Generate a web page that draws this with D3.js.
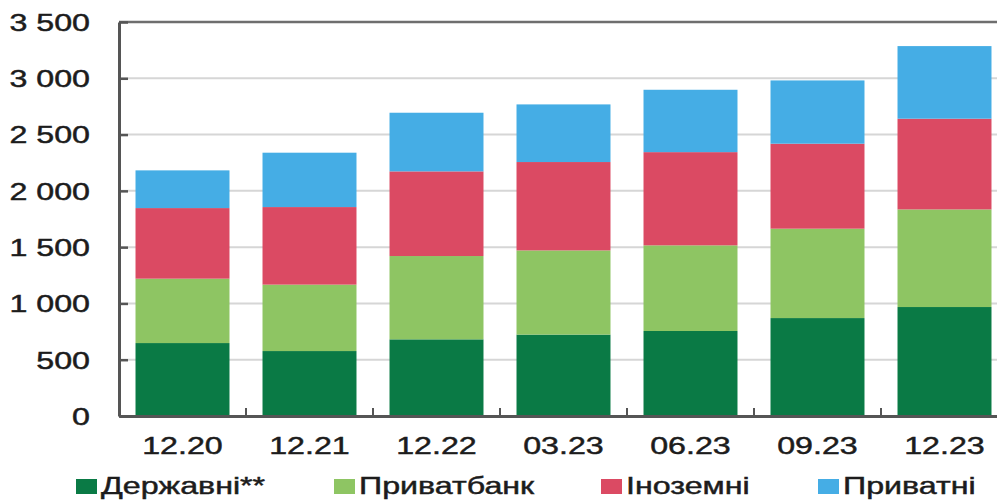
<!DOCTYPE html>
<html>
<head>
<meta charset="utf-8">
<script src="https://cdn.jsdelivr.net/npm/d3@7"></script>
<style>
  html, body { margin: 0; padding: 0; background: #fff; }
  text { font-family: "Liberation Sans", Arial, sans-serif; fill: #1c1c1c; stroke: #1c1c1c; stroke-width: 0.45px; }
</style>
</head>
<body>
<svg id="chart" width="997" height="500"></svg>
<script>
const categories = ["12.20", "12.21", "12.22", "03.23", "06.23", "09.23", "12.23"];
const seriesNames = ["Державні**", "Приватбанк", "Іноземні", "Приватні"];
const derzhavni   = [648, 577, 681, 723, 755, 870, 968];
const privatbank  = [572, 590, 740, 748, 761, 794, 867];
const inozemni    = [627, 689, 752, 785, 828, 755, 806];
const pryvatni    = [335, 483, 521, 512, 554, 562, 645];
const yTicks = [0, 500, 1000, 1500, 2000, 2500, 3000, 3500];
const colors = ["#0a7a45", "#8ec563", "#db4a63", "#45ade5"];

const table = categories.map((c, i) => ({
  cat: c,
  [seriesNames[0]]: derzhavni[i],
  [seriesNames[1]]: privatbank[i],
  [seriesNames[2]]: inozemni[i],
  [seriesNames[3]]: pryvatni[i]
}));

const svg = d3.select("#chart");
const mLeft = 119, mRight = 1008, mTop = 22, mBottom = 416;
const SX = 1.4; // horizontal stretch of the reference text
const FS = "23px";

const x = d3.scaleBand().domain(categories).range([mLeft, mRight]).paddingInner(0.26).paddingOuter(0.13);
const y = d3.scaleLinear().domain([0, 3500]).range([mBottom, mTop]);

// gridlines
svg.append("g").selectAll("line").data(yTicks.filter(t => t > 0 && t < 3500)).join("line")
  .attr("x1", mLeft).attr("x2", 997)
  .attr("y1", d => y(d)).attr("y2", d => y(d))
  .attr("stroke", "#d6d6d6").attr("stroke-width", 2);

// top frame
svg.append("line").attr("x1", mLeft).attr("x2", 997).attr("y1", y(3500)).attr("y2", y(3500))
  .attr("stroke", "#6e6e6e").attr("stroke-width", 2.5);

// bars
const stack = d3.stack().keys(seriesNames)(table);
svg.append("g").selectAll("g").data(stack).join("g")
  .attr("fill", (d, i) => colors[i])
  .selectAll("rect").data(d => d).join("rect")
  .attr("x", d => x(d.data.cat))
  .attr("width", x.bandwidth())
  .attr("y", d => y(d[1]))
  .attr("height", d => y(d[0]) - y(d[1]));

// y axis
const yAxis = d3.axisLeft(y).tickValues(yTicks).tickSizeInner(-9).tickSizeOuter(0).tickFormat(() => "");
const ya = svg.append("g").attr("transform", `translate(${mLeft},0)`).call(yAxis);
ya.select(".domain").attr("stroke", "#555").attr("stroke-width", 3);
ya.selectAll(".tick line").attr("stroke", "#555").attr("stroke-width", 2.5);

const fmt = v => d3.format(",")(v).replace(/,/g, " ");
svg.append("g").selectAll("text").data(yTicks).join("text")
  .attr("transform", d => `translate(90,${y(d) + 1}) scale(${SX},1)`)
  .attr("text-anchor", "end")
  .attr("dominant-baseline", "central")
  .style("font-size", FS)
  .text(d => fmt(d));

// x axis
const xAxis = d3.axisBottom(x).tickSize(0).tickFormat(() => "");
const xa = svg.append("g").attr("transform", `translate(0,${mBottom})`).call(xAxis);
xa.select(".domain").attr("stroke", "#555").attr("stroke-width", 3);
xa.selectAll(".tick").remove();
// separator ticks between categories (pointing up)
const step = x.step();
svg.append("g").selectAll("line").data(categories.slice(1)).join("line")
  .attr("x1", d => x(d) - x.paddingInner() * step / 2)
  .attr("x2", d => x(d) - x.paddingInner() * step / 2)
  .attr("y1", mBottom).attr("y2", mBottom - 8)
  .attr("stroke", "#555").attr("stroke-width", 2);

svg.append("g").selectAll("text").data(categories).join("text")
  .attr("transform", d => `translate(${x(d) + x.bandwidth() / 2},454) scale(${SX},1)`)
  .attr("text-anchor", "middle")
  .style("font-size", FS)
  .text(d => d);

// legend
const legendX = [76, 334, 601, 818];
const lg = svg.append("g").selectAll("g").data(seriesNames).join("g")
  .attr("transform", (d, i) => `translate(${legendX[i]},0)`);
lg.append("rect").attr("x", 0).attr("y", 479).attr("width", 21).attr("height", 15)
  .attr("fill", (d, i) => colors[i]);
lg.append("text")
  .attr("transform", `translate(25,494) scale(${SX},1)`)
  .style("font-size", FS)
  .text(d => d);
</script>
</body>
</html>
